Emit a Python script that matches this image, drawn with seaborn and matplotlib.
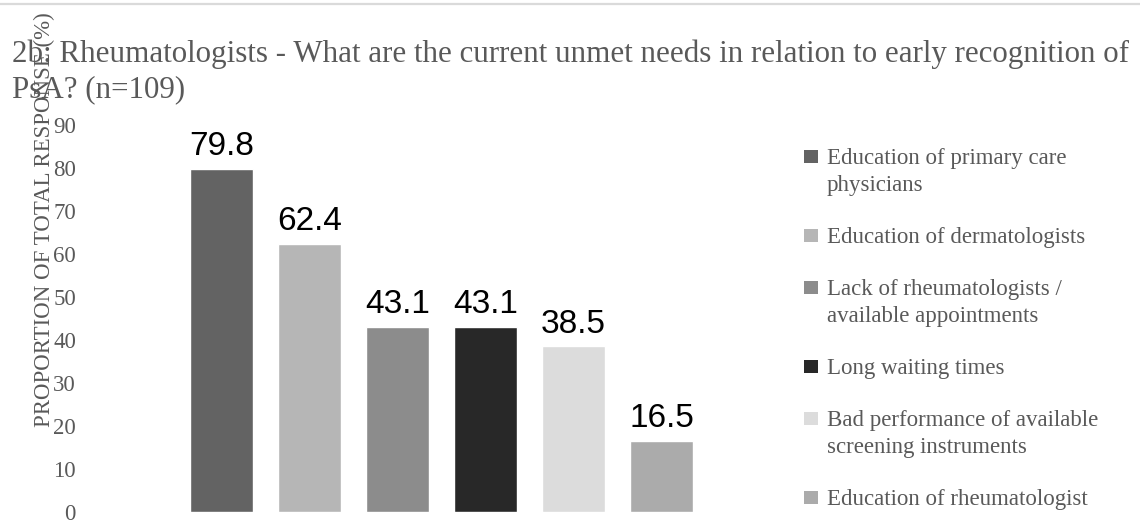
import matplotlib
matplotlib.use("Agg")
import matplotlib.pyplot as plt
from matplotlib.lines import Line2D
from matplotlib.patches import Rectangle
import seaborn as sns
import pandas as pd

categories = [
    "Education of primary care\nphysicians",
    "Education of dermatologists",
    "Lack of rheumatologists /\navailable appointments",
    "Long waiting times",
    "Bad performance of available\nscreening instruments",
    "Education of rheumatologist",
]
values = [79.8, 62.4, 43.1, 43.1, 38.5, 16.5]
colors = ["#636363", "#b6b6b6", "#8c8c8c", "#282828", "#dcdcdc", "#ababab"]
yticks = [0, 10, 20, 30, 40, 50, 60, 70, 80, 90]

title_lines = [
    "2b: Rheumatologists - What are the current unmet needs in relation to early recognition of",
    "PsA? (n=109)",
]
ylabel = "PROPORTION OF TOTAL RESPONSE (%)"

sns.set_theme(style="white")
plt.rcParams["font.family"] = ["Liberation Serif", "DejaVu Serif"]

W, H = 1140, 531
fig = plt.figure(figsize=(W / 100, H / 100), dpi=100)
ax = fig.add_axes([85 / W, 19 / H, 650 / W, 387 / H])

df = pd.DataFrame({"need": categories, "pct": values})
sns.barplot(data=df, x="need", y="pct", hue="need", order=categories,
            hue_order=categories, palette=dict(zip(categories, colors)),
            saturation=1, width=0.716, legend=False, ax=ax)

for cont in ax.containers:
    ax.bar_label(cont, fmt="%.1f", padding=5, fontsize=24,
                 family="Liberation Sans", color="black")

ax.set_ylim(0, 90)
ax.set_xlim(-1.551, 5.835)
ax.set_yticks(yticks)
ax.set_xticks([])
ax.set_xlabel("")
ax.tick_params(axis="y", length=0, pad=6.5, labelsize=16.5, labelcolor="#595959")
for s in ax.spines.values():
    s.set_visible(False)

ax.set_ylabel(ylabel, fontsize=16.5, color="#595959")
ax.yaxis.set_label_coords(-0.0463, 0.755)

# Title, two lines, left aligned
title_base = [62, 97]
for line, yb in zip(title_lines, title_base):
    fig.text(12 / W, 1 - yb / H, line, fontsize=22.3, color="#595959",
             ha="left", va="baseline")

# Legend drawn at the right of the plot area
line_step = 27
entry_gap = 25
yb = 164
for lab, col in zip(categories, colors):
    parts = lab.split("\n")
    fig.patches.append(Rectangle((804 / W, 1 - (yb - 1) / H), 14 / W, 13 / H,
                                 transform=fig.transFigure, facecolor=col,
                                 edgecolor="none"))
    for i, p in enumerate(parts):
        fig.text(827 / W, 1 - (yb + i * line_step) / H, p, fontsize=16.5,
                 color="#595959", ha="left", va="baseline")
    yb += len(parts) * line_step + entry_gap

# thin frame line across the top
fig.add_artist(Line2D([0, 1], [1 - 4 / H, 1 - 4 / H], transform=fig.transFigure,
                      color="#dadada", lw=1.6))

fig.savefig("out.png", dpi=100)
